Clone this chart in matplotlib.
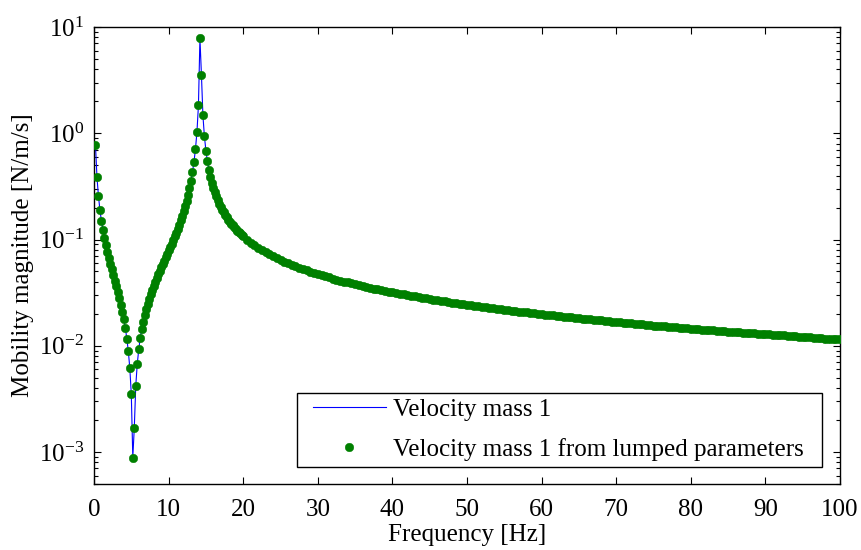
import numpy as np
import matplotlib
matplotlib.use("Agg")
import matplotlib.pyplot as plt
from matplotlib.patches import Rectangle
from matplotlib.ticker import LogLocator, FixedLocator, NullFormatter

plt.rcParams['font.family'] = ['Liberation Serif', 'DejaVu Serif']
plt.rcParams['mathtext.fontset'] = 'custom'
plt.rcParams['mathtext.rm'] = 'Liberation Serif'
plt.rcParams['mathtext.it'] = 'Liberation Serif:italic'

# Frequency grid [Hz]: 0.2 Hz steps up to 20 Hz, 0.5 Hz steps above
freq_low = np.round(np.arange(1, 101) * 0.2, 1)
freq_high = np.arange(20.5, 100.01, 0.5)

# Mobility magnitude [N/m/s], 0.2 .. 20.0 Hz
mob_low = [
    0.770, 0.384, 0.254, 0.189, 0.149, 0.123, 0.103, 0.0886, 0.0769, 0.0673,
    0.0593, 0.0524, 0.0464, 0.0411, 0.0364, 0.0320, 0.0281, 0.0244, 0.0210, 0.0177,
    0.0147, 0.0117, 0.00890, 0.00616, 0.00350, 0.000887, 0.00168, 0.00422, 0.00675, 0.00927,
    0.0118, 0.0144, 0.0169, 0.0195, 0.0222, 0.0249, 0.0277, 0.0306, 0.0336, 0.0367,
    0.0400, 0.0433, 0.0469, 0.0506, 0.0546, 0.0588, 0.0633, 0.0681, 0.0733, 0.0789,
    0.0850, 0.0917, 0.0991, 0.107, 0.116, 0.126, 0.138, 0.151, 0.166, 0.184,
    0.206, 0.231, 0.263, 0.304, 0.357, 0.430, 0.537, 0.708, 1.03, 1.83,
    7.82, 3.57, 1.47, 0.934, 0.688, 0.547, 0.455, 0.391, 0.343, 0.307,
    0.277, 0.254, 0.234, 0.217, 0.203, 0.191, 0.180, 0.170, 0.162, 0.154,
    0.147, 0.141, 0.136, 0.130, 0.126, 0.121, 0.117, 0.114, 0.110, 0.107,
]

# Mobility magnitude [N/m/s], 20.5 .. 100 Hz
mob_high = [
    0.0998, 0.0936, 0.0882, 0.0835, 0.0794, 0.0756, 0.0723, 0.0693, 0.0665, 0.0640,
    0.0617, 0.0596, 0.0577, 0.0558, 0.0542, 0.0526, 0.0511, 0.0497, 0.0484, 0.0472,
    0.0460, 0.0449, 0.0439, 0.0429, 0.0419, 0.0410, 0.0402, 0.0394, 0.0386, 0.0378,
    0.0371, 0.0364, 0.0358, 0.0351, 0.0345, 0.0340, 0.0334, 0.0328, 0.0323, 0.0318,
    0.0313, 0.0308, 0.0304, 0.0299, 0.0295, 0.0291, 0.0287, 0.0283, 0.0279, 0.0275,
    0.0272, 0.0268, 0.0265, 0.0262, 0.0258, 0.0255, 0.0252, 0.0249, 0.0246, 0.0243,
    0.0241, 0.0238, 0.0235, 0.0233, 0.0230, 0.0228, 0.0225, 0.0223, 0.0221, 0.0218,
    0.0216, 0.0214, 0.0212, 0.0210, 0.0208, 0.0206, 0.0204, 0.0202, 0.0200, 0.0198,
    0.0196, 0.0194, 0.0193, 0.0191, 0.0189, 0.0188, 0.0186, 0.0185, 0.0183, 0.0181,
    0.0180, 0.0178, 0.0177, 0.0176, 0.0174, 0.0173, 0.0171, 0.0170, 0.0169, 0.0167,
    0.0166, 0.0165, 0.0164, 0.0162, 0.0161, 0.0160, 0.0159, 0.0158, 0.0157, 0.0155,
    0.0154, 0.0153, 0.0152, 0.0151, 0.0150, 0.0149, 0.0148, 0.0147, 0.0146, 0.0145,
    0.0144, 0.0143, 0.0142, 0.0142, 0.0141, 0.0140, 0.0139, 0.0138, 0.0137, 0.0136,
    0.0135, 0.0135, 0.0134, 0.0133, 0.0132, 0.0131, 0.0131, 0.0130, 0.0129, 0.0128,
    0.0128, 0.0127, 0.0126, 0.0125, 0.0125, 0.0124, 0.0123, 0.0123, 0.0122, 0.0121,
    0.0121, 0.0120, 0.0119, 0.0119, 0.0118, 0.0117, 0.0117, 0.0116, 0.0116, 0.0115,
]

freq = np.concatenate([freq_low, freq_high])
mob = np.concatenate([mob_low, mob_high])

x_ticks = [0, 10, 20, 30, 40, 50, 60, 70, 80, 90, 100]
y_limits = (5e-4, 10)

fig = plt.figure(figsize=(8.61, 5.50), dpi=100)
ax = fig.add_axes([94 / 861, 1 - 484 / 550, 746 / 861, 457 / 550])

ax.semilogy(freq, mob, color='#0000ff', linewidth=0.8, label='Velocity mass 1', zorder=2)
ax.semilogy(freq, mob, linestyle='none', marker='o', markersize=6.2,
            markerfacecolor='#008000', markeredgecolor='#008000', markeredgewidth=0.3,
            label='Velocity mass 1 from lumped parameters', zorder=3)

ax.set_xlim(0, 100)
ax.set_ylim(*y_limits)
ax.xaxis.set_major_locator(FixedLocator(x_ticks))
ax.yaxis.set_major_locator(LogLocator(base=10, numticks=10))
ax.yaxis.set_minor_locator(LogLocator(base=10, subs=np.arange(2, 10), numticks=20))
ax.yaxis.set_minor_formatter(NullFormatter())

ax.tick_params(axis='both', which='both', direction='in', top=True, right=True,
               labelsize=18, width=0.8, colors='black')
ax.tick_params(axis='x', which='major', length=5, pad=11)
ax.tick_params(axis='y', which='major', length=5, pad=7)
ax.tick_params(axis='y', which='minor', length=3)
for sp in ax.spines.values():
    sp.set_linewidth(1.0)
    sp.set_color('black')

ax.set_xlabel('Frequency [Hz]', fontsize=18, labelpad=2)
ax.set_ylabel('Mobility magnitude [N/m/s]', fontsize=18, labelpad=4)

# legend box (white with black edge), then legend entries without their own frame
box = Rectangle((0.2721, 0.0372), 0.9759 - 0.2721, 0.1991 - 0.0372,
                transform=ax.transAxes, facecolor='white', edgecolor='black',
                linewidth=1.0, zorder=4)
ax.add_patch(box)
leg = ax.legend(loc='upper left', bbox_to_anchor=(0.2936, 0.188), borderaxespad=0,
                fontsize=18, numpoints=1, frameon=False, handlelength=2.9,
                handletextpad=0.28, borderpad=0.0, labelspacing=0.7)
leg.set_zorder(5)

fig.savefig('out.png', dpi=100)
